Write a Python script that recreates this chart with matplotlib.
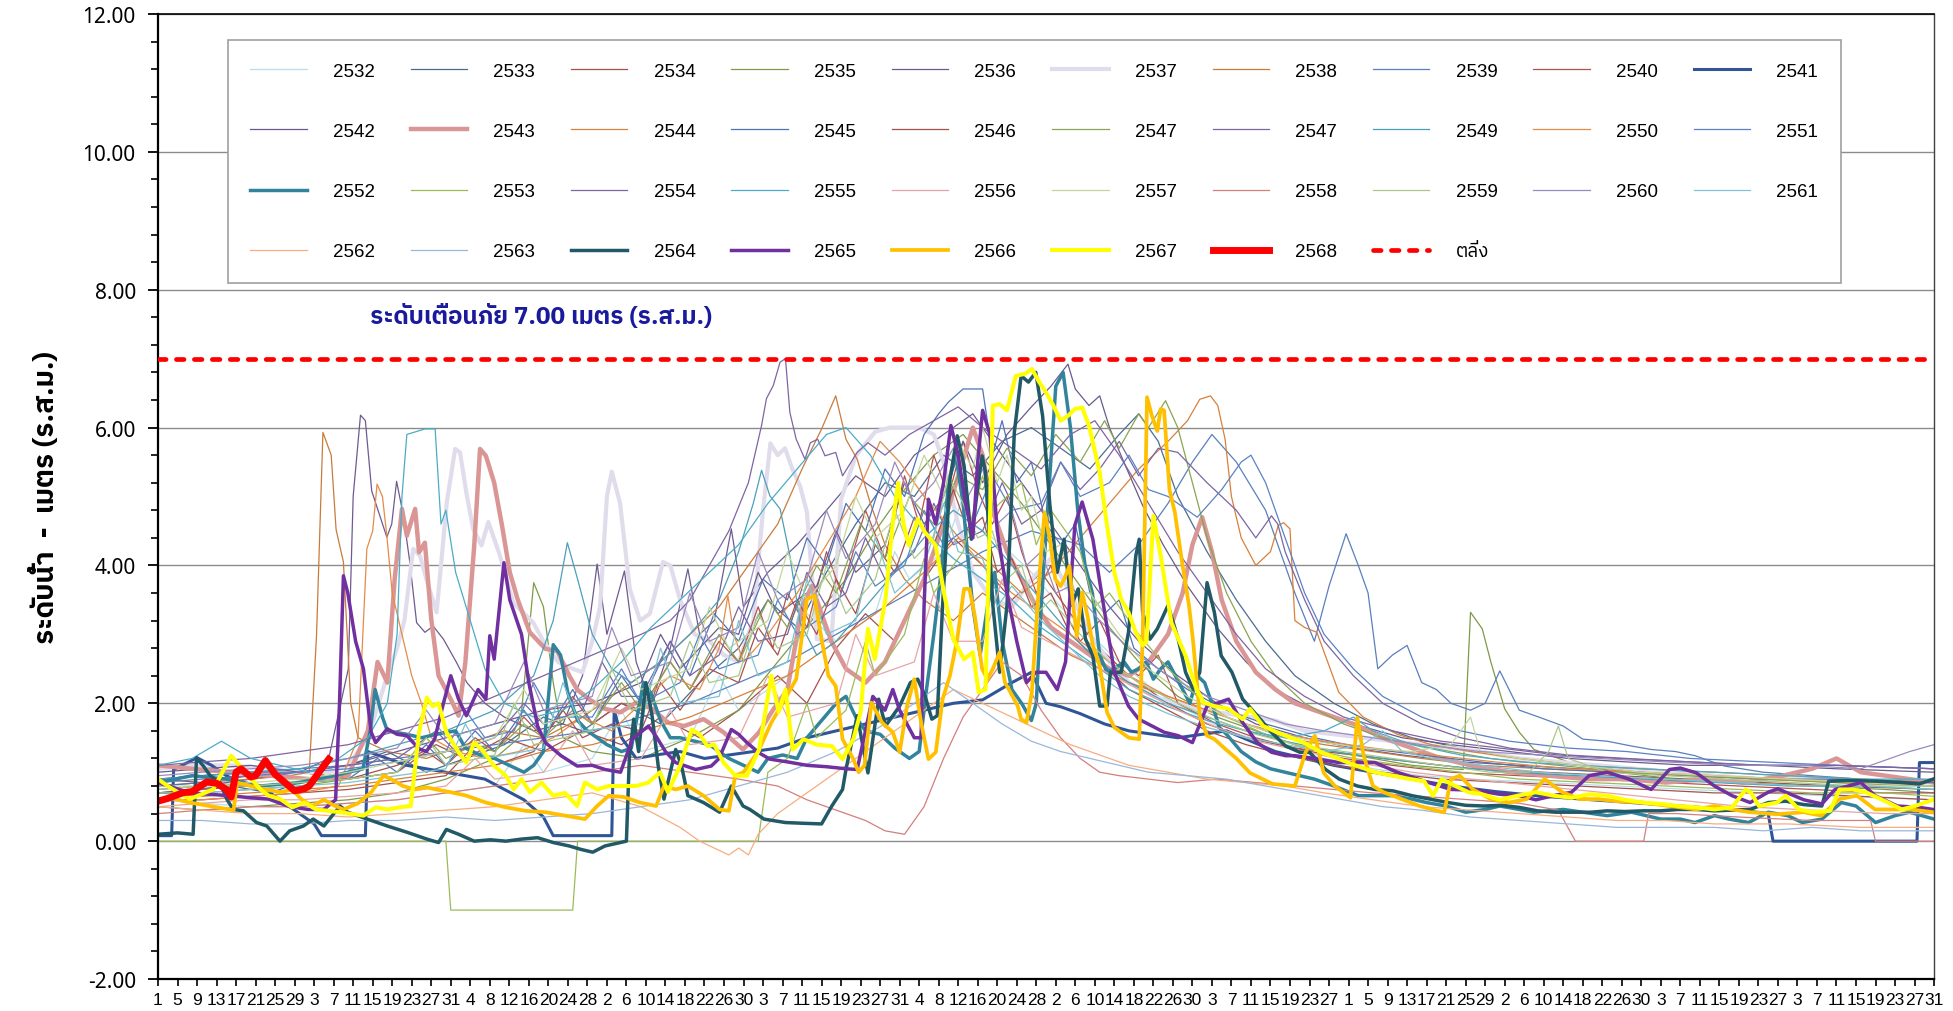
import pandas as pd
import matplotlib
matplotlib.use("Agg")
import matplotlib.pyplot as plt
from matplotlib import font_manager
from matplotlib.ft2font import FT2Font
from matplotlib.ticker import MultipleLocator, FormatStrFormatter


# หา font ที่มีอักษรไทย (ถ้าไม่มีใช้ DejaVu Sans)
def find_thai_font():
    fonts = sorted(font_manager.fontManager.ttflist, key=lambda f: "Thai" not in f.name)
    for f in fonts:
        try:
            cmap = FT2Font(f.fname).get_charmap()
        except Exception:
            continue
        if 0x0E23 in cmap and 0x0E14 in cmap and 0x0E49 in cmap:
            return f.name
    return "DejaVu Sans"


thai_font = find_thai_font()
plt.rcParams["font.family"] = ["DejaVu Sans", thai_font]
narrow = ["Liberation Sans", thai_font]

# ---------------- data: (day of water year, level m.) day 1 = 1 April ----------------
y2532 = [(1,0.6),(10,0.55),(20,0.5),(30,0.5),(40,0.55),(50,0.6),(60,0.7),(70,0.8),(76,1.4),(80,1.0),(90,1.2),(96,1.9),(100,1.3),(110,1.5),(116,2.4),(120,1.9),(130,2.4),(134,3.3),(140,2.9),(148,3.3),(152,4.2),(155,3.8),(162,4.2),(166,5.0),(168,4.6),(174,4.3),(180,3.9),(186,3.4),(192,3.0),(198,2.6),(205,2.2),(212,1.9),(220,1.6),(230,1.4),(240,1.2),(250,1.05),(260,0.95),(270,0.9),(285,0.85),(300,0.8),(315,0.75),(330,0.7),(345,0.65),(365,0.6)]
y2533 = [(1,0.7),(8,0.75),(16,0.8),(24,0.7),(32,0.9),(40,1.1),(48,1.3),(56,1.0),(64,1.2),(72,1.4),(80,1.8),(88,1.6),(96,2.0),(104,1.7),(112,2.3),(120,2.8),(126,3.5),(132,3.1),(138,3.9),(144,4.6),(150,5.2),(156,5.0),(162,5.6),(168,5.3),(174,5.8),(180,6.0),(186,5.7),(192,5.4),(198,5.9),(202,6.2),(206,5.8),(210,5.0),(216,4.2),(222,3.5),(228,2.9),(234,2.4),(242,2.0),(250,1.7),(258,1.5),(268,1.35),(280,1.2),(292,1.1),(305,1.0),(320,0.95),(335,0.9),(350,0.85),(365,0.8)]
y2534 = [(1,0.9),(10,0.85),(20,0.95),(30,1.0),(40,0.9),(50,1.1),(58,1.4),(64,1.2),(72,1.5),(80,1.3),(88,1.6),(96,1.4),(104,1.8),(112,1.5),(120,1.9),(128,2.4),(134,2.0),(140,2.8),(146,3.3),(152,2.9),(158,3.8),(164,4.4),(170,4.0),(176,3.5),(182,3.9),(188,3.3),(194,2.8),(200,2.4),(208,2.0),(216,1.7),(224,1.5),(234,1.35),(246,1.25),(258,1.15),(270,1.05),(285,1.0),(300,0.95),(315,0.9),(330,0.85),(345,0.8),(365,0.75)]
y2535 = [(1,0.5),(10,0.45),(20,0.5),(30,0.55),(40,0.6),(50,0.7),(60,0.9),(70,1.2),(75,1.5),(77,3.0),(78,3.75),(80,3.4),(82,2.3),(84,1.5),(90,1.3),(100,1.2),(110,1.5),(120,1.9),(128,2.6),(135,3.2),(142,3.8),(148,4.5),(154,5.1),(160,5.6),(166,5.9),(172,5.4),(178,4.9),(184,4.3),(190,3.7),(196,3.1),(202,2.6),(210,2.1),(218,1.8),(226,1.6),(234,1.4),(242,1.3),(250,1.2),(258,1.1),(266,1.05),(268.5,1.04),(270,3.32),(272.4,3.08),(274.2,2.59),(277,1.92),(280,1.58),(283,1.33),(290,1.15),(300,1.0),(312,0.9),(325,0.85),(340,0.8),(355,0.75),(365,0.7)]
y2536 = [(1,0.75),(10,0.8),(20,0.9),(30,1.0),(36,1.2),(40,2.5),(41,5.0),(42.5,6.18),(43.5,6.1),(44.8,5.08),(47.9,4.41),(48.9,4.6),(49.9,5.22),(51.3,4.72),(52.6,4.05),(54,3.17),(55.7,3.03),(57.4,3.12),(59.5,2.93),(62.2,2.59),(64.3,2.3),(68,2.0),(72,1.8),(78,1.6),(84,1.7),(88,2.4),(91,4.02),(93,3.0),(96.6,3.92),(99,2.6),(102,2.0),(106,2.8),(109.6,3.95),(112,3.0),(115,3.2),(118.5,4.53),(121,3.4),(126,3.9),(132,4.3),(138,4.8),(144,5.3),(150,5.0),(156,5.6),(162,5.9),(168,6.2),(172,5.8),(178,5.2),(184,4.6),(190,4.0),(196,3.4),(202,2.9),(210,2.4),(218,2.0),(226,1.7),(236,1.5),(246,1.35),(256,1.25),(268,1.15),(280,1.1),(292,1.05),(305,1.0),(318,0.95),(332,0.9),(346,0.9),(365,0.85)]
y2537 = [(1,1.05),(8,1.1),(16,1.1),(24,1.05),(30,1.0),(36,1.0),(40,1.1),(44,1.5),(48,2.4),(50,2.8),(51.5,3.2),(53.3,4.24),(54.7,4.14),(56,3.8),(58.1,3.32),(60.2,4.92),(61.9,5.69),(62.9,5.64),(64.3,5.01),(65.6,4.53),(67.3,4.29),(68.7,4.63),(71.1,4.14),(73.8,3.46),(77.9,3.17),(80,2.9),(83,2.6),(86,2.5),(88,2.45),(90,2.9),(91.6,3.4),(93,5.0),(94,5.36),(95.7,4.9),(97.7,3.66),(99.8,3.2),(101.8,3.3),(104.5,4.05),(106,4.0),(108,3.5),(111,3.0),(114,2.9),(117,2.7),(120,2.6),(123,3.2),(125,4.8),(126.5,5.77),(128,5.6),(129.5,5.7),(131,5.4),(132.6,5.15),(134,4.77),(136,2.93),(139,2.9),(141,4.96),(144,5.59),(148,5.94),(151,6.0),(154,6.0),(157,6.0),(160,5.9),(162,5.5),(165,4.6),(168,3.9),(172,3.5),(176,3.4),(180,3.8),(184,4.1),(188,3.6),(192,3.0),(196,2.6),(200,2.3),(205,2.1),(210,2.0),(215,1.9),(220,1.85),(225,1.8),(230,1.75),(236,1.6),(242,1.55),(248,1.5),(254,1.45),(260,1.4),(266,1.35),(272,1.3),(280,1.2),(288,1.15),(296,1.1),(304,1.05),(312,1.0),(320,0.95),(330,0.9),(340,0.9),(350,0.85),(360,0.85),(365,0.85)]
y2538 = [(1,0.8),(10,0.85),(20,0.9),(28,0.95),(32,1.0),(33.5,3.0),(34.8,5.93),(36.5,5.6),(37.5,4.52),(39,4.05),(40.5,2.0),(42,1.5),(48,1.3),(56,1.2),(64,1.4),(72,1.6),(80,1.5),(88,1.8),(96,2.2),(104,2.6),(110,3.0),(116,3.4),(122,4.0),(128,4.6),(133,5.4),(137,5.98),(139.9,6.46),(142,5.83),(144.3,5.54),(147,4.9),(150,4.3),(154,3.8),(158,3.5),(164,3.2),(170,3.6),(176,3.3),(182,3.0),(188,2.7),(194,2.5),(200,2.3),(208,2.1),(216,1.9),(224,1.7),(232,1.5),(240,1.4),(250,1.3),(260,1.2),(272,1.1),(285,1.05),(300,1.0),(315,0.95),(330,0.9),(345,0.85),(365,0.8)]
y2539 = [(1,0.9),(10,0.95),(20,1.0),(30,1.05),(40,1.1),(50,1.2),(60,1.3),(70,1.4),(80,1.5),(90,1.6),(100,1.8),(110,2.0),(120,2.3),(130,2.6),(140,3.0),(150,3.4),(160,3.8),(170,4.2),(180,4.5),(190,4.3),(196,3.9),(202,4.3),(208,4.9),(213,5.5),(217,5.9),(222,5.5),(228,4.8),(234,3.6),(238,2.9),(241,3.7),(244.5,4.46),(247,4.0),(249,3.6),(251,2.5),(254,2.7),(257,2.84),(260,2.3),(263,2.2),(266,2.0),(270,1.9),(273,2.0),(276,2.47),(280,1.9),(284,1.8),(289,1.67),(293,1.48),(298,1.45),(303,1.38),(307,1.33),(312,1.3),(316,1.24),(322,1.09),(330,1.0),(340,0.95),(350,0.9),(365,0.85)]
y2540 = [(1,0.7),(10,0.75),(20,0.8),(30,0.85),(40,0.9),(50,1.0),(56,1.3),(60,1.1),(66,1.5),(70,1.3),(76,1.8),(80,1.5),(86,2.1),(90,1.7),(96,2.0),(100,1.9),(106,2.6),(110,2.2),(116,2.9),(120,2.6),(124,3.4),(127,2.8),(130,3.6),(134,3.1),(138,4.2),(141,3.6),(146,4.8),(150,4.1),(154,5.3),(157,4.6),(160,5.6),(163,5.0),(166,5.8),(169,5.1),(172,4.6),(175,5.0),(178,4.2),(181,3.6),(184,4.0),(187,3.3),(190,2.9),(194,3.2),(198,2.6),(202,2.4),(206,2.7),(210,2.0),(218,1.7),(226,1.5),(234,1.35),(244,1.2),(254,1.1),(266,1.0),(280,0.95),(295,0.9),(310,0.85),(325,0.8),(340,0.75),(355,0.7),(365,0.7)]
y2541 = [(1,0.08),(3.8,0.08),(4.2,1.04),(9,1.21),(12,1.1),(15,0.95),(18,0.85),(21,0.8),(24,0.7),(27,0.55),(30,0.4),(33,0.25),(34.5,0.08),(43.5,0.08),(44,1.3),(48,1.2),(52,1.1),(56,1.05),(60,1.0),(64,0.95),(68,0.9),(72,0.75),(76,0.6),(80,0.35),(82,0.08),(94,0.08),(94.5,1.9),(96,1.5),(99,1.2),(103,1.25),(108,1.3),(113,1.2),(118,1.25),(123,1.3),(128,1.35),(134,1.5),(140,1.6),(146,1.7),(152,1.8),(158,1.9),(164,2.0),(170,2.05),(176,2.3),(180,2.45),(183,2.0),(186,1.95),(190,1.85),(195,1.7),(200,1.6),(205,1.55),(210,1.5),(215,1.55),(220,1.6),(225,1.45),(230,1.3),(236,1.2),(242,1.1),(250,1.0),(258,0.9),(266,0.8),(275,0.72),(285,0.65),(295,0.6),(305,0.55),(315,0.5),(325,0.45),(331,0.4),(332,0.0),(361.5,0.0),(362,1.14),(365,1.14)]
y2542 = [(1,1.0),(10,1.05),(20,1.1),(30,1.0),(40,1.1),(50,1.3),(60,1.5),(70,1.7),(80,1.9),(90,2.0),(100,2.3),(104,3.0),(108,2.5),(116,3.1),(120,3.0),(124,3.9),(128,3.3),(136,3.7),(140,4.5),(144,3.9),(150,4.3),(154,5.2),(158,4.6),(162,5.0),(166,5.8),(170,5.2),(175,5.9),(180,6.3),(184,6.6),(187.5,6.92),(189,6.56),(191.8,6.32),(194,6.46),(196,6.0),(198.4,5.59),(202.8,4.87),(207,4.3),(212,3.7),(218,3.1),(224,2.6),(230,2.2),(238,1.9),(246,1.7),(256,1.5),(266,1.4),(278,1.3),(290,1.2),(302,1.15),(315,1.1),(330,1.1),(345,1.05),(365,1.0)]
y2543 = [(1,1.1),(8,1.05),(16,1.0),(24,0.95),(32,0.9),(40,0.95),(44,1.6),(46,2.6),(48,2.3),(49.5,3.8),(51,4.82),(52,4.43),(53.7,4.82),(54.5,4.19),(55.7,4.33),(57,3.22),(58.5,2.4),(61,2.06),(62.6,1.82),(64,2.6),(65.8,4.28),(67,5.69),(68.2,5.59),(69.9,5.2),(71.5,4.58),(73.1,3.9),(74.7,3.51),(77.2,3.03),(80.4,2.79),(82.8,2.76),(85.3,2.4),(86.9,2.2),(89.3,2.06),(92.6,1.92),(95.8,1.87),(99,2.01),(102.3,1.92),(105.5,1.72),(108.8,1.67),(112.8,1.77),(116.9,1.58),(120.9,1.33),(124.2,1.58),(127,1.9),(130,2.2),(133,3.4),(135,3.7),(137,3.3),(139,2.9),(142,2.5),(146,2.3),(150,2.6),(154,3.2),(158,3.8),(162,4.6),(165,5.3),(168,6.0),(170,5.6),(172,4.8),(175,4.2),(178,3.8),(181,3.4),(184,3.1),(188,2.9),(192,2.7),(196,2.5),(200,2.4),(204,2.6),(208,3.0),(211,3.6),(213,4.3),(215,4.7),(217,4.2),(219,3.5),(222,2.9),(226,2.45),(230,2.2),(234,2.0),(240,1.85),(246,1.7),(252,1.5),(258,1.35),(264,1.2),(270,1.1),(278,1.0),(286,0.95),(294,0.9),(302,0.9),(310,0.85),(318,0.9),(326,0.85),(334,0.95),(340,1.05),(345,1.2),(350,1.0),(355,0.95),(360,0.9),(365,0.85)]
y2544 = [(1,0.7),(10,0.65),(20,0.7),(30,0.75),(40,0.8),(50,0.9),(60,1.0),(70,1.1),(80,1.3),(90,1.4),(100,1.6),(110,1.8),(120,2.1),(130,2.4),(140,2.9),(150,3.4),(158,3.9),(165,4.4),(172,4.0),(178,3.6),(184,3.9),(190,4.4),(196,4.9),(202,5.4),(208,5.8),(212,6.1),(214.5,6.41),(216.7,6.46),(218.2,6.32),(219.7,5.83),(221,5.0),(223,4.4),(226,4.0),(229,4.2),(230.6,4.58),(231.7,4.62),(233,4.53),(234,3.2),(236,3.1),(238.5,3.03),(243,2.16),(248,1.8),(255,1.55),(262,1.4),(270,1.3),(280,1.2),(292,1.1),(305,1.05),(320,1.0),(335,0.95),(350,0.9),(365,0.85)]
y2545 = [(1,0.8),(10,0.85),(20,0.8),(30,0.85),(40,0.9),(46,1.2),(50,1.0),(56,1.4),(60,1.1),(66,1.6),(70,1.3),(76,1.9),(80,1.5),(86,2.2),(90,1.7),(96,2.4),(100,2.0),(106,2.9),(110,2.4),(115,3.3),(120,2.9),(125,3.8),(130,3.5),(134,4.4),(138,4.0),(142,4.9),(146,4.5),(150,5.4),(154,5.0),(158,5.9),(161,6.2),(163,6.37),(166,6.56),(170,6.56),(172,5.6),(174,6.1),(177,5.2),(180,5.5),(183,4.6),(186,4.3),(189,4.6),(192,3.6),(195,3.3),(198,3.5),(201,2.8),(206,2.5),(212,2.2),(220,1.9),(228,1.7),(238,1.5),(248,1.35),(260,1.25),(272,1.15),(285,1.05),(300,1.0),(315,0.95),(330,0.9),(345,0.9),(365,0.85)]
y2546 = [(1,0.6),(10,0.6),(20,0.65),(30,0.7),(40,0.75),(50,0.85),(60,0.95),(66,1.4),(70,1.1),(78,1.3),(84,1.9),(88,1.5),(94,1.7),(100,1.6),(104,2.3),(108,1.9),(114,2.5),(120,2.3),(124,3.1),(128,2.7),(132,3.5),(136,3.0),(140,3.8),(144,3.3),(148,4.3),(152,3.9),(156,4.7),(160,4.3),(164,5.1),(167,4.5),(170,4.7),(173,3.9),(176,4.1),(180,3.4),(184,3.6),(188,3.0),(194,2.6),(200,2.2),(208,1.9),(216,1.6),(224,1.4),(232,1.25),(242,1.1),(252,1.0),(264,0.9),(278,0.85),(292,0.8),(306,0.75),(320,0.7),(335,0.7),(350,0.65),(365,0.6)]
y2547a = [(1,0.7),(10,0.7),(20,0.75),(30,0.8),(40,0.9),(50,1.0),(56,1.5),(60,1.2),(66,1.4),(70,1.3),(76,1.7),(80,1.5),(86,1.9),(90,1.7),(96,2.3),(100,1.9),(106,2.6),(110,2.2),(116,3.0),(120,2.6),(126,3.5),(130,3.1),(136,4.0),(140,3.6),(145,4.6),(150,4.1),(155,5.0),(160,4.6),(165,5.3),(170,5.1),(175,5.7),(180,5.3),(185,5.9),(190,5.5),(195,6.1),(198,5.7),(202,6.2),(204,6.0),(207.5,6.39),(210,6.0),(213,5.2),(216,4.4),(220,3.6),(225,2.9),(230,2.4),(236,2.0),(244,1.7),(252,1.5),(262,1.35),(274,1.2),(288,1.1),(302,1.0),(316,0.95),(330,0.9),(345,0.85),(365,0.8)]
y2547b = [(1,0.9),(10,0.95),(20,1.0),(30,1.0),(40,1.1),(50,1.2),(58,1.6),(62,1.3),(70,1.5),(76,2.0),(80,1.7),(88,1.9),(92,2.6),(96,2.1),(100,2.1),(106,2.9),(110,2.4),(116,2.7),(120,3.4),(124,2.9),(130,3.0),(134,3.9),(138,3.4),(142,3.6),(146,4.4),(150,3.8),(156,4.2),(160,4.9),(164,4.3),(170,4.5),(174,5.2),(178,4.6),(182,4.8),(186,5.5),(190,5.1),(194,5.4),(198,5.8),(202,5.3),(206,5.7),(210,5.64),(216,5.2),(222,4.8),(226,4.4),(229.2,4.72),(230.5,4.6),(232,4.2),(236,3.5),(240,2.9),(246,2.4),(252,2.0),(260,1.7),(268,1.5),(278,1.35),(290,1.25),(302,1.2),(315,1.15),(330,1.1),(345,1.1),(365,1.05)]
y2549 = [(1,0.9),(10,0.95),(20,1.0),(30,1.05),(40,1.2),(50,1.4),(60,1.6),(70,1.9),(78,2.4),(82,3.2),(84.9,4.33),(87,3.8),(90,3.0),(94,2.5),(98,2.3),(104,2.6),(110,3.0),(116,3.5),(120,4.2),(123,4.9),(124.7,5.38),(126.4,5.01),(128.5,4.82),(130.5,4.14),(132.6,3.17),(136,2.7),(140,2.9),(146,3.4),(152,3.9),(158,4.4),(164,4.8),(170,4.5),(176,4.0),(182,3.5),(188,3.0),(194,2.6),(200,2.3),(208,2.0),(216,1.8),(224,1.6),(232,1.45),(242,1.3),(252,1.2),(264,1.1),(278,1.0),(292,0.95),(306,0.9),(320,0.85),(335,0.8),(350,0.8),(365,0.75)]
y2550 = [(1,0.6),(10,0.6),(20,0.65),(30,0.7),(38,0.8),(42,1.5),(43.8,4.24),(45,4.5),(45.9,5.18),(47,5.0),(47.9,4.43),(49,3.6),(51,3.0),(53,2.4),(55,2.0),(57,1.5),(62,1.3),(68,1.2),(75,1.3),(82,1.5),(88,1.8),(94,1.6),(100,2.0),(106,2.4),(112,2.2),(116,2.8),(117.8,3.56),(119,3.0),(121,2.6),(126,3.0),(132,3.6),(138,4.3),(144,5.0),(149,5.8),(153,5.5),(158,5.0),(164,4.5),(170,4.0),(176,3.6),(182,3.3),(188,3.0),(194,2.7),(200,2.4),(208,2.1),(216,1.9),(224,1.7),(232,1.55),(240,1.45),(250,1.35),(262,1.25),(275,1.15),(290,1.05),(305,1.0),(320,0.95),(335,0.9),(350,0.85),(365,0.8)]
y2551 = [(1,0.85),(10,0.9),(20,0.95),(30,1.0),(40,1.05),(50,1.15),(60,1.3),(64,1.9),(68,1.5),(74,1.6),(78,2.3),(82,1.8),(90,1.8),(96,2.5),(100,2.0),(108,2.3),(112,3.0),(116,2.5),(124,2.7),(128,3.5),(132,3.0),(140,3.4),(144,4.2),(148,3.7),(154,4.0),(158,4.8),(162,4.3),(168,4.6),(172,5.3),(176,4.8),(182,4.9),(186,5.5),(190,5.0),(196,5.2),(200,5.6),(204,5.1),(208,5.0),(214,4.7),(219,5.1),(223,5.5),(225,5.6),(228,5.2),(232,4.4),(236,3.6),(240,3.0),(246,2.5),(252,2.1),(260,1.8),(268,1.6),(278,1.45),(290,1.35),(302,1.3),(315,1.2),(330,1.15),(345,1.1),(365,1.05)]
y2552 = [(1,0.85),(8,0.95),(15,0.9),(22,0.8),(30,0.85),(37,0.95),(43,1.05),(44.5,1.6),(45.5,2.2),(47,1.8),(48,1.6),(52,1.55),(55,1.5),(58,1.55),(62,1.6),(64,1.35),(67,1.25),(70,1.2),(73,1.1),(76,1.0),(78,1.1),(80,1.3),(82,2.85),(83.5,2.7),(85,2.15),(87,1.75),(89,1.6),(93,1.4),(96,1.3),(98,1.35),(100.5,2.3),(102,2.15),(104,1.75),(106,1.5),(108,1.5),(111,1.45),(114,1.4),(118,1.2),(121,1.1),(124,1.0),(126,1.2),(129,1.25),(132,1.2),(134,1.5),(137,1.75),(140,2.0),(142,2.1),(144,1.8),(146,1.6),(149,1.55),(152,1.35),(155,1.2),(157,1.3),(158.5,2.2),(160,3.0),(161.5,3.9),(163,5.2),(164.5,5.6),(166,4.9),(167,4.1),(168,3.4),(169.5,2.7),(171,3.4),(172.5,3.9),(174,2.9),(176,2.2),(178,2.0),(180,1.75),(181,2.0),(182,3.4),(183.5,5.0),(185,6.6),(186.5,6.8),(188,6.0),(189.5,4.8),(191,4.0),(192.5,3.6),(194,2.7),(195.5,2.45),(197,2.5),(199,2.6),(200.5,2.45),(202,2.5),(203.5,2.6),(205,2.35),(206.5,2.5),(208,2.6),(209.5,2.4),(211,2.2),(212.5,2.0),(214,2.4),(215.5,2.3),(217,2.0),(218.5,1.65),(220,1.55),(223,1.3),(226,1.15),(229,1.05),(232,1.0),(235,0.95),(238,0.9),(242,0.8),(247,0.66),(254,0.66),(258,0.61),(261,0.56),(265,0.51),(269,0.42),(273,0.46),(276,0.51),(280,0.46),(283,0.42),(289,0.46),(293,0.42),(298,0.37),(303,0.42),(309,0.32),(313,0.32),(316,0.27),(320,0.37),(323,0.32),(327,0.27),(331,0.42),(335,0.37),(338,0.27),(342,0.32),(346,0.56),(349,0.51),(353,0.27),(357,0.37),(360,0.42),(365,0.32)]
y2553 = [(1,0.0),(60,0.0),(61,-1.0),(86,-1.0),(87,0.0),(124,0.0),(126,1.0),(130,1.2),(134,2.0),(136,1.5),(142,1.9),(146,2.9),(148,2.4),(154,3.0),(158,4.1),(160,3.6),(166,4.2),(170,5.3),(172,4.8),(178,5.2),(181,4.3),(184,4.8),(190,4.2),(193,3.4),(196,3.6),(202,3.0),(208,2.5),(214,2.1),(220,1.8),(228,1.55),(236,1.35),(246,1.2),(256,1.1),(268,1.0),(280,0.9),(295,0.85),(310,0.8),(325,0.75),(340,0.7),(355,0.7),(365,0.65)]
y2554 = [(1,1.1),(10,1.15),(20,1.2),(30,1.3),(40,1.4),(50,1.6),(60,1.8),(70,2.1),(80,2.4),(90,2.7),(100,3.0),(106,3.2),(110,3.5),(114,4.0),(118,4.5),(122,5.2),(124.7,6.03),(125.7,6.42),(127.1,6.61),(128.5,6.95),(129.6,7.0),(130.5,6.22),(131.8,5.83),(133.6,5.54),(134.7,5.78),(136.2,5.83),(137.7,5.59),(139.9,5.64),(141.3,5.3),(144.3,5.64),(146.5,5.78),(150,5.6),(155,5.9),(160,6.1),(165,6.3),(170,6.0),(176,5.7),(182,5.4),(188,5.9),(193,6.1),(198,5.6),(204,4.9),(210,4.2),(216,3.6),(222,3.0),(228,2.5),(236,2.1),(244,1.8),(254,1.6),(264,1.45),(276,1.35),(288,1.25),(300,1.2),(315,1.15),(330,1.1),(345,1.1),(365,1.05)]
y2555 = [(1,1.1),(8,1.2),(14,1.45),(20,1.2),(26,1.1),(32,1.0),(38,1.2),(44,1.5),(48,2.0),(50,3.0),(51,5.0),(52,5.9),(55.7,5.98),(57.8,5.98),(59,4.6),(60,4.8),(62,3.9),(65,3.2),(68,2.5),(72,2.0),(78,1.8),(84,1.9),(90,2.2),(96,2.6),(102,3.1),(108,3.5),(114,3.9),(120,4.3),(126,4.9),(132,5.4),(138,5.9),(142,6.0),(147,5.6),(152,5.0),(158,4.5),(164,4.1),(170,3.8),(176,3.5),(182,3.1),(188,2.8),(194,2.5),(200,2.2),(208,1.95),(216,1.75),(224,1.6),(232,1.5),(240,1.6),(246,1.8),(250,1.6),(258,1.4),(268,1.25),(280,1.15),(292,1.1),(305,1.05),(320,1.0),(335,0.95),(350,0.9),(365,0.9)]
y2556 = [(1,0.5),(10,0.55),(20,0.6),(30,0.6),(40,0.65),(50,0.7),(60,0.8),(66,1.2),(70,0.9),(80,1.0),(86,1.6),(90,1.1),(100,1.2),(106,1.9),(110,1.4),(120,1.5),(126,2.4),(130,1.8),(140,2.0),(144,3.0),(148,2.4),(156,2.6),(160,3.6),(164,2.9),(170,2.9),(174,3.8),(178,3.1),(186,2.8),(194,2.5),(202,2.2),(210,1.9),(218,1.65),(226,1.45),(236,1.3),(246,1.15),(258,1.0),(270,0.9),(284,0.8),(298,0.7),(312,0.6),(326,0.5),(340,0.45),(355,0.4),(365,0.4)]
y2557 = [(1,0.8),(10,0.8),(20,0.85),(30,0.9),(40,1.0),(50,1.15),(60,1.3),(70,1.5),(76,2.2),(80,1.7),(90,1.9),(96,2.8),(100,2.2),(110,2.5),(114,3.4),(118,2.8),(126,3.2),(130,4.2),(134,3.5),(140,4.0),(144,5.0),(148,4.4),(154,4.8),(158,5.6),(162,5.0),(165,5.8),(168,5.4),(170,6.0),(173,5.2),(175,5.6),(178,4.8),(180,5.0),(183,4.2),(186,4.3),(189,3.6),(192,3.6),(198,3.0),(204,2.5),(212,2.1),(220,1.8),(228,1.6),(238,1.45),(248,1.35),(258,1.3),(266,1.4),(270,1.8),(272,1.3),(280,1.2),(292,1.1),(305,1.0),(320,0.95),(335,0.9),(350,0.85),(365,0.8)]
y2558 = [(1,0.4),(10,0.45),(20,0.5),(30,0.5),(40,0.55),(50,0.6),(60,0.7),(70,0.8),(80,0.9),(90,1.0),(100,1.1),(110,1.0),(120,0.9),(128,0.8),(134,0.6),(140,0.45),(146,0.3),(150,0.15),(154,0.1),(158,0.5),(162,1.2),(166,1.8),(170,2.2),(174,2.6),(178,2.4),(182,1.9),(186,1.5),(190,1.2),(194,1.0),(198,0.95),(204,0.9),(210,0.85),(218,0.9),(226,0.85),(234,0.8),(242,0.75),(250,0.7),(260,0.65),(270,0.6),(280,0.55),(288,0.45),(291.5,0.0),(305.5,0.0),(306.5,0.4),(312,0.4),(325,0.35),(340,0.3),(352,0.3),(353,0.0),(365,0.0)]
y2559 = [(1,0.75),(10,0.8),(20,0.8),(30,0.85),(40,0.9),(50,1.0),(56,1.5),(60,1.1),(70,1.25),(74,2.0),(78,1.4),(90,1.6),(94,2.5),(98,1.9),(106,2.1),(110,2.9),(114,2.3),(120,2.4),(124,3.3),(128,2.8),(134,3.0),(138,4.0),(142,3.3),(148,3.8),(152,4.8),(156,4.1),(160,4.4),(163,5.3),(166,4.9),(169,4.4),(172,4.5),(175,3.8),(178,4.0),(181,3.3),(184,3.5),(190,3.0),(196,2.6),(202,2.3),(210,2.0),(218,1.75),(226,1.55),(234,1.4),(244,1.3),(254,1.2),(264,1.1),(274,1.0),(282,1.0),(286,1.3),(288,1.67),(290,1.2),(298,1.0),(310,0.95),(322,0.9),(336,0.85),(350,0.8),(365,0.8)]
y2560 = [(1,0.95),(10,1.0),(20,1.05),(30,1.1),(40,1.2),(50,1.35),(56,1.9),(60,1.5),(70,1.7),(76,2.6),(80,1.9),(90,2.1),(94,3.1),(98,2.4),(106,2.6),(110,3.6),(114,2.9),(120,3.1),(124,4.2),(128,3.5),(134,3.8),(138,4.8),(142,4.1),(148,4.6),(152,5.5),(156,4.9),(160,5.2),(164,5.7),(167,5.0),(170,5.4),(173,4.6),(176,4.8),(179,4.0),(182,4.2),(185,3.6),(188,3.7),(194,3.2),(200,2.8),(208,2.4),(216,2.1),(224,1.9),(232,1.7),(240,1.6),(250,1.5),(260,1.4),(272,1.3),(284,1.25),(296,1.2),(310,1.15),(324,1.1),(338,1.1),(350,1.05),(360,1.3),(365,1.4)]
y2561 = [(1,0.7),(10,0.7),(20,0.75),(30,0.8),(40,0.85),(50,0.95),(60,1.05),(64,1.7),(68,1.2),(80,1.35),(84,2.3),(88,1.6),(100,1.7),(104,2.8),(108,2.0),(116,2.1),(120,3.2),(124,2.4),(130,2.6),(134,3.8),(138,3.0),(144,3.2),(148,4.4),(152,3.6),(158,4.0),(162,4.9),(165,4.2),(170,4.1),(173,3.4),(176,3.7),(182,3.2),(188,2.8),(194,2.4),(200,2.1),(208,1.85),(216,1.65),(224,1.5),(232,1.4),(240,1.3),(248,1.4),(252,1.6),(256,1.3),(262,1.2),(272,1.1),(284,1.0),(296,0.95),(310,0.9),(324,0.85),(338,0.8),(352,0.8),(365,0.75)]
y2562 = [(1,0.5),(10,0.45),(20,0.4),(30,0.4),(40,0.35),(50,0.4),(60,0.45),(70,0.5),(80,0.6),(90,0.7),(100,0.5),(108,0.2),(112,0.0),(115,-0.1),(118,-0.2),(120,-0.1),(122,-0.2),(124,0.1),(128,0.4),(134,0.7),(140,1.0),(146,1.3),(152,1.6),(158,1.9),(164,2.2),(170,2.0),(176,1.8),(182,1.6),(188,1.4),(194,1.25),(200,1.1),(208,1.0),(216,0.9),(224,0.85),(232,0.8),(240,0.7),(250,0.6),(260,0.5),(270,0.45),(280,0.4),(290,0.35),(300,0.3),(310,0.3),(320,0.25),(335,0.25),(350,0.2),(365,0.2)]
y2563 = [(1,0.3),(10,0.3),(20,0.25),(30,0.25),(40,0.3),(50,0.3),(60,0.35),(70,0.3),(80,0.35),(90,0.4),(100,0.5),(110,0.6),(120,0.8),(130,1.0),(140,1.3),(150,1.7),(156,2.0),(162,2.3),(168,2.0),(174,1.7),(180,1.45),(186,1.3),(192,1.2),(198,1.1),(204,1.0),(212,0.95),(220,0.9),(228,0.8),(236,0.7),(244,0.6),(252,0.5),(260,0.45),(270,0.35),(280,0.3),(290,0.25),(300,0.2),(310,0.2),(320,0.2),(330,0.15),(340,0.2),(350,0.15),(365,0.15)]
y2564 = [(1,0.1),(5,0.12),(8.2,0.1),(8.9,1.21),(10.3,1.09),(11.7,0.95),(13.7,0.85),(15.1,0.61),(16.4,0.46),(18.5,0.44),(21.2,0.27),(23.3,0.22),(26,0.0),(28,0.15),(30.8,0.22),(32.8,0.32),(35,0.22),(38.3,0.51),(39.9,0.42),(43.9,0.32),(48,0.22),(52,0.13),(56.1,0.03),(58.5,-0.02),(60.1,0.17),(62.6,0.1),(65.8,0.0),(69.1,0.02),(72.3,0.0),(75.5,0.03),(78.8,0.05),(82,-0.02),(85.3,-0.07),(87.7,-0.12),(90.1,-0.16),(92.6,-0.07),(95.8,-0.02),(97,0.0),(97.6,1.2),(98.5,1.77),(99.5,1.3),(101,2.3),(102.3,1.8),(103.5,1.1),(104.7,0.61),(107.1,1.33),(108.3,1.09),(109.6,0.66),(112.8,0.56),(116.1,0.42),(118.5,0.8),(120.9,0.51),(122.3,0.46),(125.2,0.32),(129.6,0.27),(133,0.26),(137,0.25),(139.1,0.51),(141.3,0.75),(142,1.04),(144.3,1.82),(146.5,0.99),(148.7,2.06),(150.1,1.67),(153,1.96),(155.2,2.3),(156.7,2.35),(158.2,2.11),(159.6,1.77),(160.7,1.82),(161.8,3.42),(163.3,5.25),(164.8,5.88),(166.2,5.45),(167.7,4.38),(169.2,5.25),(169.9,5.59),(170.6,5.35),(172.1,3.42),(173.5,2.45),(175,3.42),(176.5,5.93),(177.9,6.75),(179.4,6.66),(180.9,6.8),(182.3,6.17),(183.8,4.87),(185.3,3.9),(186.7,4.38),(188.2,3.42),(189.6,3.66),(191.1,2.93),(192.6,2.69),(194,1.96),(195.5,1.96),(196.2,2.45),(198.4,2.45),(199.9,3.03),(201.4,4.14),(202.1,4.38),(202.8,3.32),(204.3,2.93),(205.8,3.08),(208,3.42),(210.1,2.93),(211.6,2.45),(213.1,2.21),(214.5,2.45),(216,3.75),(217.5,3.32),(218.9,2.69),(221.1,2.45),(223.3,2.06),(226.3,1.82),(229.2,1.58),(232.1,1.38),(235,1.29),(237,1.29),(240.3,1.04),(243.1,0.9),(246.8,0.8),(250.4,0.75),(254.1,0.73),(258,0.66),(261.7,0.61),(265.4,0.56),(269,0.52),(272.7,0.51),(276.4,0.52),(280,0.49),(283.7,0.44),(287.4,0.42),(291,0.42),(294.7,0.42),(298,0.44),(301.6,0.43),(305.3,0.44),(309,0.44),(312.6,0.46),(316.3,0.46),(320,0.44),(323.6,0.45),(327.3,0.46),(331,0.56),(334.6,0.58),(338.3,0.53),(342,0.51),(343.4,0.87),(347.4,0.88),(353,0.87),(358.4,0.85),(362,0.83),(364.8,0.9)]
y2565 = [(1,0.85),(4,0.78),(7.5,0.7),(11.5,0.68),(15.6,0.66),(20,0.63),(23.7,0.61),(28,0.5),(31.8,0.46),(35,0.46),(37.4,0.6),(38.2,2.0),(39,3.85),(39.9,3.6),(41.5,2.9),(43.1,2.5),(44.7,1.58),(45.6,1.43),(48,1.63),(50,1.55),(52,1.53),(54.5,1.34),(56,1.3),(57.7,1.48),(59.5,2.0),(61,2.4),(62.6,2.06),(64.2,1.82),(66.6,2.2),(68.2,2.06),(69,2.98),(69.9,2.64),(71.9,4.04),(73.1,3.5),(75.5,3.0),(77,2.3),(78.8,1.67),(80.4,1.43),(83.6,1.24),(86.9,1.09),(90,1.1),(92.6,1.04),(95.8,1.0),(98.2,1.48),(101.5,1.67),(103,1.53),(105,1.3),(107.1,1.14),(111.2,1.04),(114.4,1.09),(116,1.2),(118.5,1.62),(120,1.55),(121.7,1.43),(124.2,1.28),(126.4,1.19),(130,1.15),(134,1.1),(138,1.08),(142,1.05),(144.3,1.04),(146,1.6),(147.5,2.1),(150,1.9),(151.6,2.2),(153,1.9),(156,1.5),(157.4,1.5),(158,3.4),(158.9,4.96),(160.4,4.6),(162,5.2),(163.5,6.03),(165,5.6),(166.5,4.9),(168,4.4),(169,5.5),(170,6.25),(171.5,5.9),(173,4.5),(175,3.6),(177,2.9),(179,2.3),(180.9,2.45),(183,2.45),(185.3,2.2),(187,2.6),(188.9,4.58),(190.4,4.92),(192.6,4.38),(194.8,3.42),(197,2.45),(199.9,1.96),(202,1.77),(207.2,1.58),(210.1,1.53),(213,1.43),(216,1.96),(218,2.0),(220.4,2.06),(223.3,1.72),(226.3,1.43),(229.2,1.29),(232.1,1.24),(234,1.24),(238,1.2),(243,1.14),(250.4,1.14),(255,1.0),(261.4,0.85),(266,0.75),(271,0.74),(276,0.68),(280,0.66),(283.4,0.6),(287,0.66),(290.7,0.71),(294.3,0.95),(298,1.0),(302.5,0.9),(307,0.75),(310.8,1.04),(313,1.06),(316.3,0.99),(320,0.8),(323.6,0.66),(327.3,0.56),(331,0.71),(333,0.76),(334.6,0.71),(338.3,0.6),(342,0.54),(344.7,0.75),(347.4,0.8),(350,0.85),(352.9,0.66),(357.5,0.51),(362,0.49),(364.8,0.46)]
y2566 = [(1,0.61),(4,0.62),(7.5,0.56),(11.5,0.51),(15.6,0.46),(16.5,0.45),(17.2,0.85),(20,0.8),(22.9,0.75),(26.1,0.71),(28.5,0.75),(30.5,0.6),(32.6,0.51),(35,0.6),(37,0.52),(39,0.46),(42,0.55),(44.7,0.71),(47.2,0.95),(48.8,0.9),(51.2,0.8),(53.7,0.75),(56.1,0.78),(58,0.75),(61,0.71),(64.2,0.66),(68.2,0.56),(72.3,0.49),(76.3,0.44),(80.4,0.42),(84.4,0.37),(88.5,0.32),(91,0.51),(93.4,0.66),(96.5,0.64),(99.8,0.56),(103.1,0.51),(104.7,0.8),(107.1,0.75),(109.6,0.8),(112.8,0.66),(116.1,0.46),(118,0.44),(119.3,0.95),(121,1.0),(124,1.3),(126.7,1.72),(129,2.0),(131.8,2.35),(134,3.51),(135.5,3.56),(137,2.93),(138.4,2.4),(139.9,2.25),(141.3,1.48),(143.5,1.19),(144.6,1.0),(145.8,1.1),(147.2,2.01),(149.4,1.72),(151.6,1.58),(153,1.29),(154.5,1.96),(156,2.35),(157.4,1.72),(158.9,1.19),(160.4,1.29),(161.8,2.06),(163.3,2.4),(164.8,2.93),(166.2,3.66),(167.3,3.66),(168.4,3.27),(169.9,2.5),(171,2.35),(172.1,2.5),(173.5,2.74),(174.6,2.3),(175.7,2.16),(177.2,1.96),(177.9,1.77),(179,1.72),(180.1,2.16),(180.9,3.03),(182,4.19),(182.7,4.77),(183.8,4.38),(184.9,3.8),(186,3.7),(186.7,3.8),(187.8,3.99),(188.5,3.46),(189.3,2.98),(190.4,3.61),(191.5,3.27),(192.6,2.84),(194,2.54),(195.5,1.87),(197,1.65),(198.4,1.58),(200,1.5),(202.1,1.48),(202.8,2.93),(203.2,4.5),(203.7,6.44),(204.7,6.17),(205.8,5.95),(206.5,6.27),(207.2,6.25),(208.3,5.1),(209.4,4.77),(210.9,4.04),(212.3,3.42),(213.1,2.93),(213.8,2.4),(214.5,1.82),(216,1.53),(217.5,1.48),(219.7,1.34),(222,1.2),(224.8,0.99),(229.4,0.83),(234,0.8),(236.2,1.29),(238.1,1.53),(239.9,0.99),(242.2,0.8),(245.4,0.63),(246.8,1.79),(248.1,1.24),(250,0.8),(252.2,0.71),(255.9,0.61),(259.6,0.51),(263.2,0.44),(264.6,0.42),(266,0.9),(267.8,0.95),(270.5,0.75),(274.2,0.61),(277.9,0.56),(281.5,0.61),(285.2,0.9),(288.8,0.71),(292.5,0.61),(296.2,0.61),(299.8,0.58),(305.3,0.56),(310.8,0.51),(316.3,0.46),(320,0.51),(323.6,0.46),(327.3,0.42),(332.8,0.39),(338.3,0.42),(341.9,0.37),(345.6,0.61),(349.2,0.66),(352.9,0.46),(356.5,0.46),(360.2,0.46),(364.8,0.42)]
y2567 = [(1,0.9),(3.4,0.78),(7.5,0.61),(12.3,0.75),(16,1.24),(17.2,1.14),(22,0.75),(23.7,0.66),(26.1,0.61),(28.5,0.49),(31,0.56),(33.4,0.46),(35.8,0.44),(38.3,0.42),(43.1,0.37),(45.6,0.49),(48,0.46),(50.4,0.49),(52.8,0.51),(54.5,1.58),(56.1,2.08),(57.3,1.96),(58.5,2.0),(60.1,1.58),(62.6,1.29),(64.2,1.14),(65.8,1.43),(67.4,1.33),(69.9,1.09),(72.3,0.95),(73.9,0.75),(75.5,0.9),(77.2,0.71),(79.6,0.85),(82,0.66),(84.4,0.7),(86.9,0.51),(88.5,0.85),(91,0.75),(93.4,0.8),(96,0.8),(99,0.8),(101.5,0.85),(103.9,1.0),(105.5,0.71),(108,1.09),(110.4,1.62),(112,1.55),(113.6,1.38),(115,1.4),(116.9,1.14),(119.3,0.95),(121.7,0.95),(124.2,1.33),(126.7,2.4),(128.2,1.87),(129.6,2.2),(131.1,1.33),(133.3,1.48),(136,1.4),(139.1,1.38),(141.3,1.19),(143.5,1.48),(145,1.87),(146.5,3.08),(147.9,2.64),(150.1,3.51),(151.6,4.62),(152.7,5.2),(153.8,4.6),(154.9,4.29),(156.7,4.67),(158.2,4.48),(160.4,4.29),(162.2,3.56),(164,2.93),(166.2,2.64),(168,2.74),(169.2,2.16),(170.6,2.2),(172.1,6.32),(173.5,6.34),(175,6.25),(176.8,6.75),(178.7,6.78),(180.1,6.85),(181.6,6.66),(183,6.51),(184.5,6.32),(186,6.1),(187.5,6.17),(188.9,6.27),(190.4,6.29),(191.8,6.03),(194,5.35),(195.5,4.58),(197,3.9),(198.4,3.51),(199.9,3.32),(201.4,3.03),(202.8,2.84),(203.6,2.9),(205,4.72),(206.5,4.14),(208.7,3.17),(211.6,2.69),(213.8,2.21),(215.3,2.01),(217.5,1.96),(220.4,1.92),(223.3,1.77),(224.8,1.92),(227.5,1.67),(230.3,1.58),(232.1,1.53),(235.8,1.43),(239.4,1.29),(243.1,1.19),(246.8,1.09),(250.4,1.0),(254.1,0.95),(257.7,0.9),(260.5,0.87),(262.3,0.66),(264.1,0.9),(266.9,0.8),(269.6,0.71),(272.4,0.68),(276,0.6),(279.7,0.66),(283.4,0.71),(287,0.66),(290.7,0.63),(294.3,0.68),(298,0.66),(301.6,0.6),(305.3,0.56),(309,0.54),(312.6,0.51),(316.3,0.49),(320,0.46),(323.6,0.49),(326.4,0.75),(327.5,0.7),(329.1,0.51),(332.8,0.56),(334.6,0.66),(337.3,0.46),(340.1,0.42),(343.7,0.44),(345.6,0.75),(348.3,0.75),(351,0.71),(355.6,0.56),(358.4,0.46),(361.1,0.51),(364.8,0.6)]
y2568 = [(1,0.58),(3,0.62),(6,0.7),(8,0.72),(11,0.86),(13,0.84),(15,0.75),(16,0.64),(17,1.0),(18,1.05),(20,0.93),(21,0.95),(23,1.17),(25,0.97),(27,0.85),(29,0.73),(31,0.76),(32,0.8),(34,1.0),(36,1.19)]

bank_level = 7.00  # ตลิ่ง

series = [y2532, y2533, y2534, y2535, y2536, y2537, y2538, y2539, y2540, y2541,
          y2542, y2543, y2544, y2545, y2546, y2547a, y2547b, y2549, y2550, y2551,
          y2552, y2553, y2554, y2555, y2556, y2557, y2558, y2559, y2560, y2561,
          y2562, y2563, y2564, y2565, y2566, y2567, y2568]
labels = ["2532", "2533", "2534", "2535", "2536", "2537", "2538", "2539", "2540", "2541",
          "2542", "2543", "2544", "2545", "2546", "2547", "2547", "2549", "2550", "2551",
          "2552", "2553", "2554", "2555", "2556", "2557", "2558", "2559", "2560", "2561",
          "2562", "2563", "2564", "2565", "2566", "2567", "2568"]

# สีและความหนาเส้น
colors = ["#b7dee8", "#4a6c91", "#a5504c", "#7f9a48", "#6f5a92", "#e1dcec", "#c97b3c", "#5a7fbd", "#b5514e", "#2f5597",
          "#6a5a8c", "#d99694", "#d9803a", "#4f74b5", "#a6504d", "#8aa451", "#7b65a3", "#4b9fb8", "#e58b48", "#5b82c6",
          "#31849b", "#9bbb59", "#8064a2", "#4bacc6", "#e6a5a4", "#c3d69b", "#d37f7d", "#a9c98a", "#9a8bbd", "#7dc3d1",
          "#f7ad80", "#9ab7db", "#215967", "#7030a0", "#ffc000", "#ffff00", "#ff0000"]
widths = [0.9] * 37
for name, w in [("2537", 3.0), ("2541", 2.2), ("2543", 3.2), ("2552", 2.5),
                ("2564", 2.5), ("2565", 2.5), ("2566", 2.7), ("2567", 2.9), ("2568", 5.0)]:
    widths[labels.index(name)] = w

# x axis: 1 เม.ย. - 31 มี.ค.
dates = pd.date_range("2025-04-01", "2026-03-31", freq="D")
tick_days = list(range(1, len(dates) + 1, 4))
tick_labels = [str(d.day) for d in dates[::4]]

# ---------------- plot ----------------
fig = plt.figure(figsize=(19.53, 10.12), dpi=100)
ax = fig.add_axes([0.0809, 0.0316, 0.9094, 0.9536])

handles = []
for data, lab, c, w in zip(series, labels, colors, widths):
    xs = [p[0] for p in data]
    ys = [p[1] for p in data]
    ln, = ax.plot(xs, ys, color=c, lw=w, label=lab, solid_joinstyle="round")
    handles.append(ln)

bank = ax.axhline(bank_level, color="#ff0000", lw=3.4, dashes=(1.6, 2.2),
                  dash_capstyle="round", label="ตลิ่ง", zorder=5)
handles.append(bank)

ax.text(44.5, 7.63, "ระดับเตือนภัย 7.00 เมตร (ร.ส.ม.)", color="#1a1a9c",
        fontsize=17.5, fontweight="bold", va="center", family=[thai_font, "DejaVu Sans"])

ax.set_xlim(1, 365)
ax.set_ylim(-2, 12)
ax.yaxis.set_major_locator(MultipleLocator(2))
ax.yaxis.set_minor_locator(MultipleLocator(0.4))
ax.yaxis.set_major_formatter(FormatStrFormatter("%.2f"))
ax.set_xticks(tick_days)
ax.set_xticklabels(tick_labels, fontsize=12.5, family=narrow)
for t in ax.get_yticklabels():
    t.set_family(["Noto Sans", "DejaVu Sans"])
ax.tick_params(axis="y", which="major", labelsize=15, length=7, width=1.3, direction="out", pad=9)
ax.tick_params(axis="y", which="minor", length=5, width=1.2, direction="out")
ax.tick_params(axis="x", length=5, width=1.2, direction="out", pad=4)
ax.grid(axis="y", which="major", color="#8c8c8c", lw=1.0)
ax.set_axisbelow(True)
for side in ["left", "bottom"]:
    ax.spines[side].set_linewidth(1.6)
    ax.spines[side].set_color("black")
ax.spines["top"].set_linewidth(1.2)
ax.spines["right"].set_linewidth(1.0)
ax.spines["right"].set_color("#404040")

ax.set_ylabel("ระดับน้ำ  -  เมตร (ร.ส.ม.)", fontsize=20, fontweight="bold",
              family=[thai_font, "DejaVu Sans"])
ax.yaxis.set_label_coords(-0.055, 0.5)

# legend เรียง 10 คอลัมน์ตามแถว
all_labels = labels + ["ตลิ่ง"]
order = []
for c in range(10):
    for r in range(4):
        i = r * 10 + c
        if i < len(handles):
            order.append(i)
leg = ax.legend([handles[i] for i in order], [all_labels[i] for i in order],
                ncol=10, loc="upper left", bbox_to_anchor=(0.0394, 0.72, 0.908, 0.253),
                mode="expand", borderaxespad=0, handlelength=3.0, handletextpad=1.4,
                labelspacing=2.3, borderpad=1.2, fancybox=False, framealpha=1,
                edgecolor="#a0a0a0", prop={"family": narrow, "size": 13.5})
leg.get_frame().set_linewidth(1.2)

plt.savefig("out.png", dpi=100)
plt.close()
